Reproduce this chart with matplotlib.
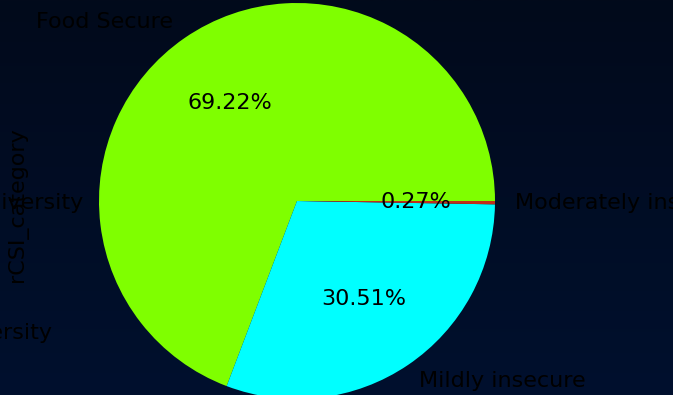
import numpy as np
import matplotlib
matplotlib.use('Agg')
import matplotlib.pyplot as plt
from matplotlib.colors import LinearSegmentedColormap

# Datos del gráfico
categorias = ['Food Secure', 'Mildly insecure', 'Moderately insecure']
porcentajes = [69.22, 30.51, 0.27]
colores = ['#7fff00', '#00ffff', '#c0301a']
etiquetas_vecinas = ['High dietary diversity', 'Low dietary diversity']

W, H = 673, 395
fs = 16
fig = plt.figure(figsize=(W / 100, H / 100), dpi=100)

# Fondo con degradado vertical
bg = fig.add_axes([0, 0, 1, 1])
fondo = LinearSegmentedColormap.from_list('fondo', ['#020a1b', '#00102e'])
bg.imshow(np.linspace(0, 1, 256).reshape(-1, 1), aspect='auto', cmap=fondo,
          extent=[0, 1, 0, 1])
bg.set_axis_off()

# Ejes del pastel: centro (297, 201) px, radio 198 px
cx, cy, r = 297, 201, 198
ax = fig.add_axes([(cx - r) / W, (H - cy - r) / H, 2 * r / W, 2 * r / H])
ax.pie(porcentajes, labels=categorias, colors=colores, autopct='%.2f%%',
       textprops={'fontsize': fs, 'color': 'black'})
ax.set_xlim(-1, 1)
ax.set_ylim(-1, 1)
ax.set_ylabel('rCSI_category', fontsize=fs, color='black')
ax.yaxis.set_label_coords(-0.18, 0.49)

# Etiquetas recortadas de la gráfica vecina
fig.text(83 / W, 1 - 203 / H, etiquetas_vecinas[0], ha='right', va='center',
         fontsize=fs, color='black')
fig.text(52 / W, 1 - 333 / H, etiquetas_vecinas[1], ha='right', va='center',
         fontsize=fs, color='black')

fig.savefig('out.png', dpi=100)
